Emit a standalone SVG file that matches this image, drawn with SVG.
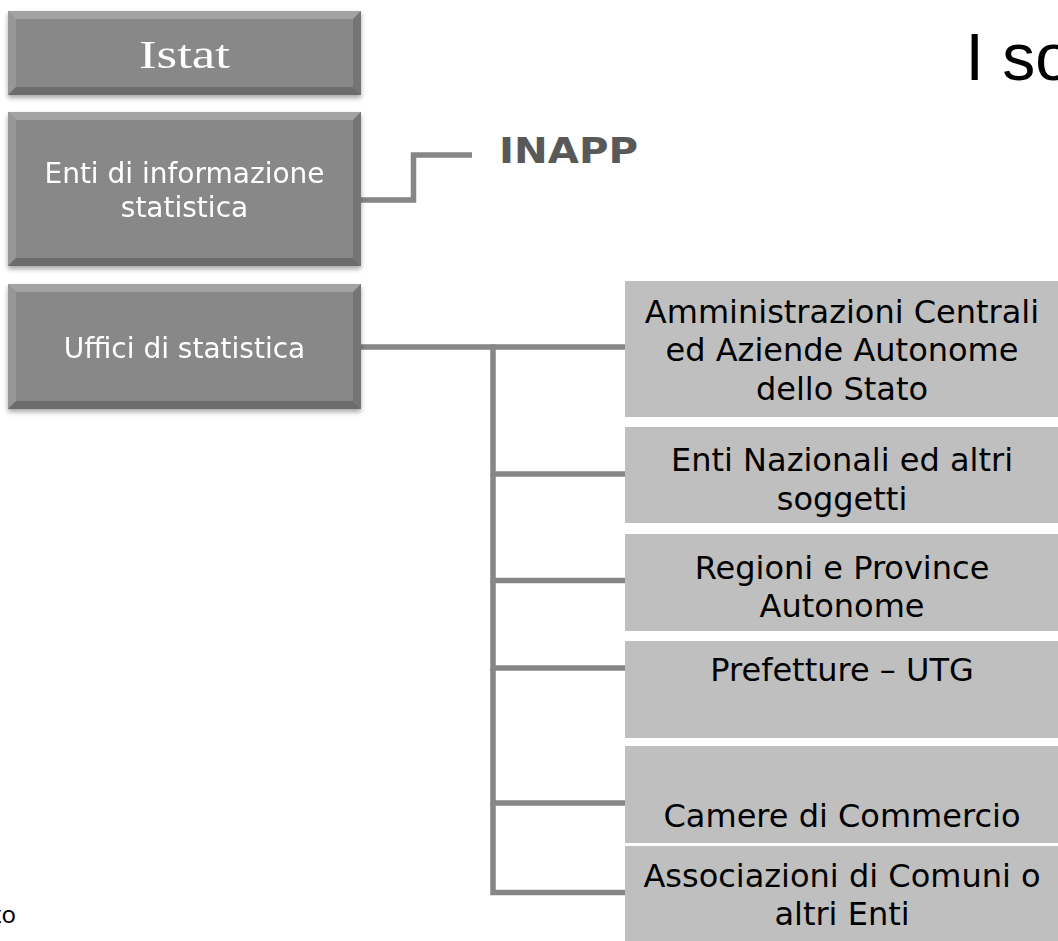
<svg xmlns="http://www.w3.org/2000/svg" width="1058" height="941" viewBox="0 0 1058 941">
<style>
.face{fill:#888888}
.bt{fill:#a3a3a3}
.bl{fill:#979797}
.bb{fill:#6c6c6c}
.br{fill:#747474}
.lt{font-family:"DejaVu Sans",Verdana,sans-serif;font-size:28px;fill:#ffffff;text-anchor:middle}
.rbox{fill:#bfbfbf}
.rt{font-family:"DejaVu Sans",Verdana,sans-serif;font-size:32px;fill:#000000;text-anchor:middle}
.con{fill:none;stroke:#868686;stroke-width:5.5}
</style>
<defs>
<filter id="sh" x="-5%" y="-10%" width="110%" height="130%">
<feDropShadow dx="0" dy="3" stdDeviation="2.5" flood-color="#000" flood-opacity="0.35"/>
</filter>
</defs>
<rect width="1058" height="941" fill="#ffffff"/>

<text id="title" x="965.5" y="80" font-family="Liberation Sans, Arial, sans-serif" font-size="66" fill="#000">I so</text>
<text id="footer" x="16" y="923" font-family="Noto Sans, sans-serif" font-size="24" fill="#000" text-anchor="end">to</text>

<g id="connectors">
<path class="con" stroke-width="4.7" stroke="#808080" d="M360 200 H413.5 V155 H472"/>
<path class="con" d="M360 347 H625"/>
<path class="con" d="M493 344.5 V474 H625"/>
<path class="con" d="M493 474 V580.5 H625"/>
<path class="con" d="M493 580.5 V668 H625"/>
<path class="con" d="M493 668 V803 H625"/>
<path class="con" d="M493 803 V892.5 H625"/>
</g>

<g id="istat" filter="url(#sh)">
<rect class="face" x="8" y="11" width="353" height="84"/>
<polygon class="bt" points="8,11 361,11 353,19 16,19"/>
<polygon class="bl" points="8,11 16,19 16,87 8,95"/>
<polygon class="bb" points="8,95 361,95 353,87 16,87"/>
<polygon class="br" points="361,11 353,19 353,87 361,95"/>
<text x="184.5" y="68.3" font-family="Liberation Serif, Times New Roman, serif" font-size="41" fill="#fff" text-anchor="middle" textLength="91" lengthAdjust="spacingAndGlyphs">Istat</text>
</g>

<g id="enti" filter="url(#sh)">
<rect class="face" x="8" y="112" width="353" height="154"/>
<polygon class="bt" points="8,112 361,112 353,120 16,120"/>
<polygon class="bl" points="8,112 16,120 16,258 8,266"/>
<polygon class="bb" points="8,266 361,266 353,258 16,258"/>
<polygon class="br" points="361,112 353,120 353,258 361,266"/>
<text class="lt" x="184.5" y="183.3">Enti di informazione</text>
<text class="lt" x="184.5" y="217.3">statistica</text>
</g>

<g id="uffici" filter="url(#sh)">
<rect class="face" x="8" y="284" width="353" height="125"/>
<polygon class="bt" points="8,284 361,284 353,292 16,292"/>
<polygon class="bl" points="8,284 16,292 16,401 8,409"/>
<polygon class="bb" points="8,409 361,409 353,401 16,401"/>
<polygon class="br" points="361,284 353,292 353,401 361,409"/>
<text class="lt" x="184.5" y="358.3">Uffici di statistica</text>
</g>

<g id="inapp">
<text x="499" y="162.7" font-family="DejaVu Sans, Verdana, sans-serif" font-weight="bold" font-size="36" fill="#595959" textLength="139" lengthAdjust="spacingAndGlyphs">INAPP</text>
</g>

<g id="amministrazioni">
<rect class="rbox" x="625" y="281" width="440" height="136"/>
<text class="rt" x="842" y="322.7">Amministrazioni Centrali</text>
<text class="rt" x="842" y="361.3">ed Aziende Autonome</text>
<text class="rt" x="842" y="400">dello Stato</text>
</g>

<g id="enti-nazionali">
<rect class="rbox" x="625" y="427" width="440" height="96"/>
<text class="rt" x="842" y="471">Enti Nazionali ed altri</text>
<text class="rt" x="842" y="509.5">soggetti</text>
</g>

<g id="regioni">
<rect class="rbox" x="625" y="534" width="440" height="97"/>
<text class="rt" x="842" y="579">Regioni e Province</text>
<text class="rt" x="842" y="617">Autonome</text>
</g>

<g id="prefetture">
<rect class="rbox" x="625" y="641" width="440" height="97"/>
<text class="rt" x="842" y="681">Prefetture – UTG</text>
</g>

<g id="camere">
<rect class="rbox" x="625" y="746" width="440" height="97"/>
<text class="rt" x="842" y="827">Camere di Commercio</text>
</g>

<g id="associazioni">
<rect class="rbox" x="625" y="846" width="440" height="100"/>
<text class="rt" x="842" y="887">Associazioni di Comuni o</text>
<text class="rt" x="842" y="925">altri Enti</text>
</g>
</svg>
